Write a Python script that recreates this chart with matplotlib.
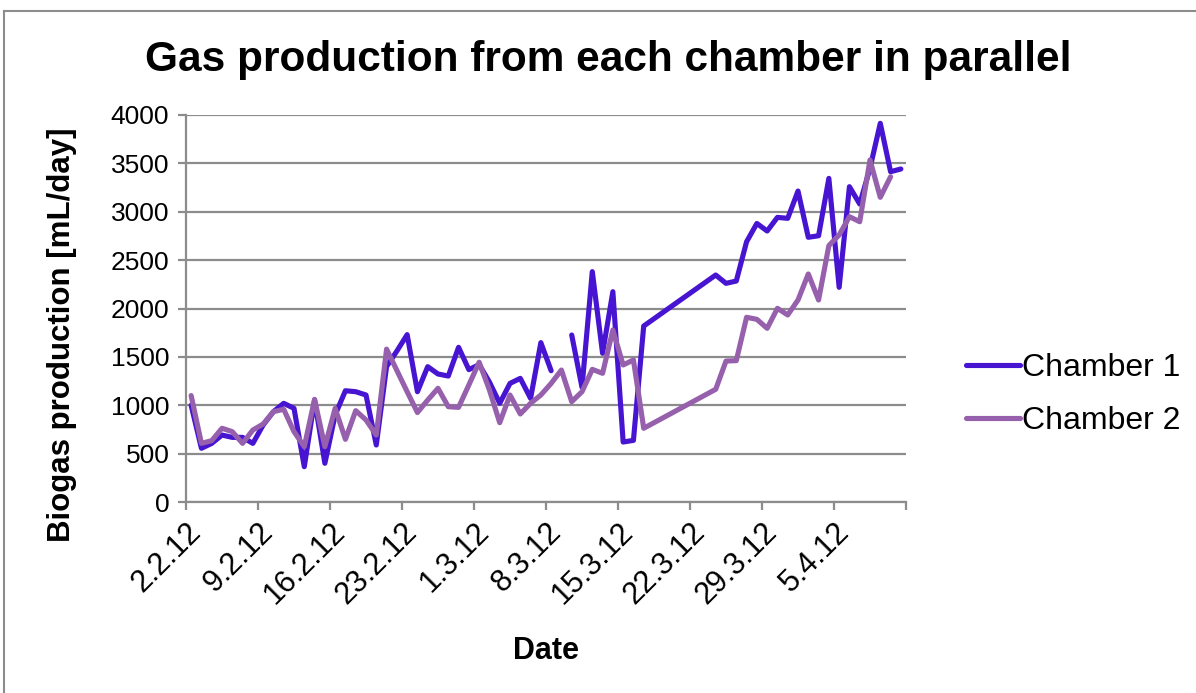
import datetime as dt
import numpy as np
import matplotlib
matplotlib.use("Agg")
import matplotlib.pyplot as plt
import matplotlib.dates as mdates
from matplotlib.lines import Line2D

plt.rcParams['font.family'] = ['Liberation Sans', 'DejaVu Sans']

# Measurement dates (no readings between 18.3 and 23.3)
dates = (
    ["2012-02-%02d" % d for d in range(2, 30)]
    + ["2012-03-%02d" % d for d in range(1, 18)]
    + ["2012-03-%02d" % d for d in range(24, 32)]
    + ["2012-04-%02d" % d for d in range(1, 12)]
)

nan = np.nan
chamber1 = [
    1000, 555, 606, 692, 668, 668, 606, 796, 934, 1020,
    968, 365, 1054, 400, 900, 1150, 1140, 1106, 589, 1400,
    1560, 1730, 1140, 1399, 1323, 1302, 1599, 1368, 1420, 1240,
    1020, 1226, 1278, 1071, 1647, 1357, nan, 1726, 1185, 2381,
    1537, 2174, 620, 637, 1819,
    2346, 2260, 2284, 2690, 2879, 2801, 2942, 2932, 3214, 2736,
    2752, 3345, 2219, 3259, 3080, 3450, 3914, 3414, 3442,
]
chamber2 = [
    1100, 606, 634, 762, 727, 606, 744, 806, 934, 958,
    727, 572, 1061, 572, 968, 648, 944, 848, 692, 1580,
    1360, 1140, 925, 1054, 1175, 985, 978, 1210, 1445, 1158,
    820, 1106, 910, 1020, 1106, 1226, 1364, 1037, 1140, 1371,
    1330, 1778, 1416, 1468, 762,
    1165, 1457, 1461, 1909, 1888, 1795, 2002, 1933, 2088, 2357,
    2088, 2650, 2760, 2949, 2897, 3535, 3149, 3362, nan,
]
series_names = ["Chamber 1", "Chamber 2"]
series_colors = ["#4714D2", "#9660AD"]

tick_dates = ["2012-02-02", "2012-02-09", "2012-02-16", "2012-02-23",
              "2012-03-01", "2012-03-08", "2012-03-15", "2012-03-22",
              "2012-03-29", "2012-04-05", "2012-04-12"]
tick_labels = ["2.2.12", "9.2.12", "16.2.12", "23.2.12", "1.3.12", "8.3.12",
               "15.3.12", "22.3.12", "29.3.12", "5.4.12", ""]

W, H = 1196, 693
fig = plt.figure(figsize=(W / 100, H / 100), dpi=100)
ax = fig.add_axes([186 / W, 1 - 502 / H, 720 / W, 387 / H])

# each daily reading sits in the middle of its day slot
x = [mdates.date2num(dt.datetime.fromisoformat(d) + dt.timedelta(hours=12)) for d in dates]
for vals, name, col in zip([chamber1, chamber2], series_names, series_colors):
    ax.plot(x, vals, color=col, lw=3.7, solid_joinstyle='round',
            solid_capstyle='round', label=name, zorder=3)

grid_col = "#8C8C8C"
ax.set_ylim(0, 4000)
ax.set_yticks(np.arange(0, 4001, 500))
ax.yaxis.grid(True, color=grid_col, lw=1.6)
ax.set_axisbelow(True)

tx = [mdates.date2num(dt.datetime.fromisoformat(d)) for d in tick_dates]
ax.set_xlim(tx[0], tx[-1])
ax.set_xticks(tx)
ax.set_xticklabels(tick_labels, rotation=45, ha='right', va='top',
                   rotation_mode='anchor')

for s in ['top', 'right']:
    ax.spines[s].set_visible(False)
for s in ['left', 'bottom']:
    ax.spines[s].set_color(grid_col)
    ax.spines[s].set_linewidth(1.6)
ax.tick_params(axis='both', colors=grid_col, width=1.6, length=6,
               labelcolor='black')
ax.tick_params(axis='x', labelsize=22, pad=5)
ax.tick_params(axis='y', labelsize=19, pad=6)

fig.text(546 / W, 1 - 651 / H, "Date", ha='center', va='center',
         fontsize=22, fontweight='bold')
fig.text(62 / W, 1 - 335 / H, "Biogas production [mL/day]", ha='center',
         va='center', rotation=90, fontsize=22.5, fontweight='bold')

fig.text(608 / W, 1 - 60 / H, "Gas production from each chamber in parallel",
         ha='center', va='center', fontsize=30.5, fontweight='bold')

handles = [Line2D([], [], color=c, lw=3.7, solid_capstyle='round') for c in series_colors]
fig.legend(handles, series_names, loc='center left',
           bbox_to_anchor=(966 / W, 1 - 394.5 / H), frameon=False,
           fontsize=23, handlelength=1.7, handletextpad=0.06,
           labelspacing=0.72, borderpad=0, borderaxespad=0)

# chart-area frame
fig.add_artist(Line2D([4 / W, 1], [1 - 11 / H, 1 - 11 / H], color=grid_col, lw=1.5,
                      transform=fig.transFigure))
fig.add_artist(Line2D([4 / W, 4 / W], [0, 1 - 11 / H], color=grid_col, lw=1.5,
                      transform=fig.transFigure))

fig.savefig("out.png", dpi=100)
